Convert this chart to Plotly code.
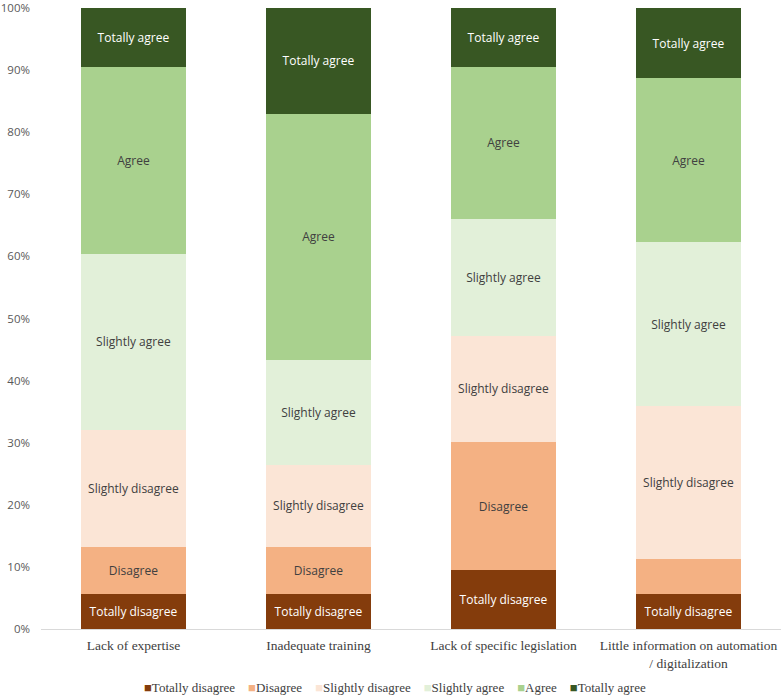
import plotly.graph_objects as go

# Share of respondents (%) per answer
categories = [
    "Lack of expertise",
    "Inadequate training",
    "Lack of specific legislation",
    "Little information on automation<br>/ digitalization",
]
totally_disagree = [5.66, 5.66, 9.43, 5.66]
disagree = [7.55, 7.55, 20.75, 5.66]
slightly_disagree = [18.87, 13.21, 16.98, 24.53]
slightly_agree = [28.30, 16.98, 18.87, 26.42]
agree = [30.19, 39.62, 24.53, 26.42]
totally_agree = [9.43, 16.98, 9.43, 11.32]

series = [
    ("Totally disagree", totally_disagree, "#843C0C", "white"),
    ("Disagree", disagree, "#F4B183", "#404040"),
    ("Slightly disagree", slightly_disagree, "#FBE5D6", "#404040"),
    ("Slightly agree", slightly_agree, "#E2F0D9", "#404040"),
    ("Agree", agree, "#A9D18E", "#404040"),
    ("Totally agree", totally_agree, "#385723", "white"),
]

fig = go.Figure()
for name, vals, color, txtcol in series:
    labels = [name] * len(vals)
    if name == "Disagree":
        labels[3] = ""  # no label on the small segment in the last bar
    fig.add_trace(go.Bar(
        x=categories, y=vals, name=name,
        marker=dict(color=color, line=dict(width=0)),
        text=labels, textposition="inside", insidetextanchor="middle",
        textangle=0,
        textfont=dict(family="Open Sans", size=12, color=txtcol),
        hoverinfo="name+y", showlegend=False,
    ))

# compact legend like the original (squares right next to the text)
gap = "\u00a0" * 4
legend_txt = gap.join(
    f"<span style='color:{c};font-size:13px'>■</span>{n}" for n, _, c, _ in series
)
fig.add_annotation(
    text=legend_txt, xref="paper", yref="paper", x=0.478, y=-0.095,
    xanchor="center", yanchor="middle", showarrow=False,
    font=dict(family="Liberation Serif", size=13, color="#404040"),
)

fig.update_layout(
    barmode="stack",
    bargap=0.43,
    width=782, height=696,
    margin=dict(l=41, r=1, t=8, b=67),
    plot_bgcolor="white", paper_bgcolor="white",
    uniformtext=dict(minsize=12, mode="show"),
)
fig.update_xaxes(
    automargin=False,
    showline=True, linecolor="#D9D9D9", linewidth=1,
    ticks="", ticklabelstandoff=4,
    tickfont=dict(family="Liberation Serif", size=13.5, color="#404040"),
)
fig.update_yaxes(
    automargin=False,
    range=[0, 100.01], tickmode="linear", tick0=0, dtick=10, ticksuffix="%",
    showgrid=False, zeroline=False, showline=False, ticklabelstandoff=10,
    tickfont=dict(family="Open Sans", size=11.5, color="#595959"),
)

# drop the default 8px body margin so the figure fills the window exactly
fig.write_html("out.html", config={"displayModeBar": False},
               post_script="document.body.style.margin='0';")
